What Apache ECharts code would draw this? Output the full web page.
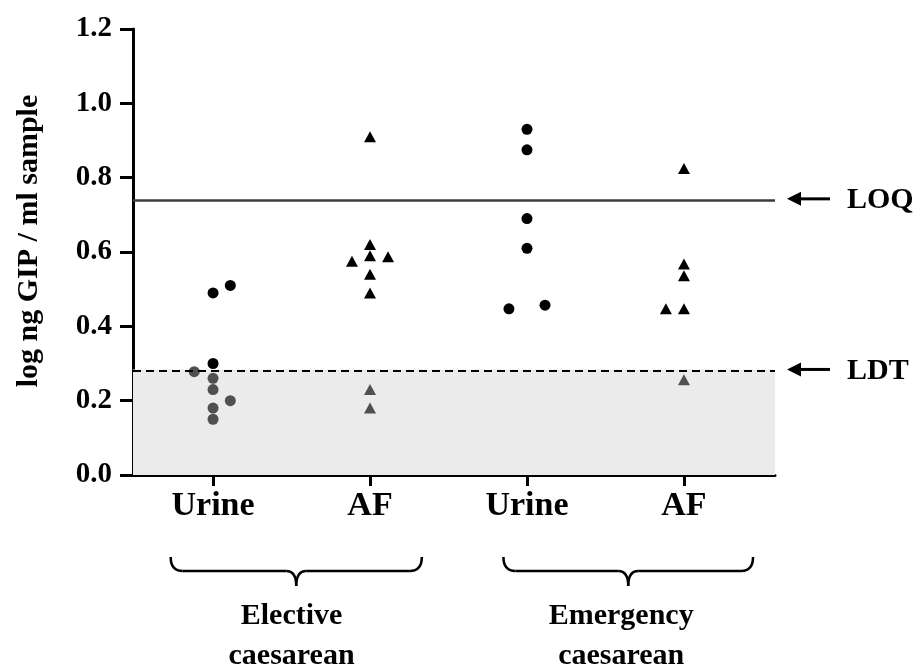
<!DOCTYPE html>
<html>
<head>
<meta charset="utf-8">
<script src="https://cdn.jsdelivr.net/npm/echarts@6/dist/echarts.min.js"></script>
<style>
  html, body { margin: 0; padding: 0; background: #fff; }
  #chart { width: 919px; height: 672px; }
</style>
</head>
<body>
<div id="chart"></div>
<script>
  // categories on the x axis, placed at 0,1,2,3
  var categories = ['Urine', 'AF', 'Urine', 'AF'];
  var groups = ['Elective\ncaesarean', 'Emergency\ncaesarean'];

  // log ng GIP / ml sample
  var electiveUrine = [0.51, 0.49, 0.30, 0.278, 0.26, 0.23, 0.20, 0.18, 0.15];
  var electiveUrineJitter = [0.11, 0, 0, -0.12, 0, 0, 0.11, 0, 0];
  var electiveAF = [0.91, 0.62, 0.59, 0.575, 0.587, 0.54, 0.49, 0.23, 0.18];
  var electiveAFJitter = [0, 0, 0, -0.115, 0.115, 0, 0, 0, 0];
  var emergencyUrine = [0.93, 0.875, 0.69, 0.61, 0.447, 0.457];
  var emergencyUrineJitter = [0, 0, 0, 0, -0.115, 0.115];
  var emergencyAF = [0.825, 0.568, 0.536, 0.447, 0.447, 0.256];
  var emergencyAFJitter = [0, 0, 0, -0.115, 0, 0];

  var LOQ = 0.743;
  var LDT = 0.284;

  var serif = '"Liberation Serif", "Times New Roman", serif';

  function points(pos, values, jitter) {
    return values.map(function (v, i) { return [pos + jitter[i], v] })
  }

  // points under the detection limit are drawn grey
  function dotColor(p) {
    return p.value[1] < LDT ? '#505050' : '#000'
  }

  var chart = echarts.init(document.getElementById('chart'));

  chart.setOption({
    animation: false,
    grid: { left: 133, right: 144, top: 29, bottom: 197 },
    xAxis: {
      type: 'value',
      min: -0.51,
      max: 3.58,
      splitLine: { show: false },
      axisLine: { onZero: false, lineStyle: { color: '#000', width: 3 } },
      axisTick: { customValues: [0, 1, 2, 3], length: 11, lineStyle: { color: '#000', width: 3 } },
      axisLabel: {
        customValues: [0, 1, 2, 3],
        margin: 14,
        color: '#000',
        fontFamily: serif,
        fontWeight: 'bold',
        fontSize: 34,
        formatter: function (v) { return categories[Math.round(v)] }
      }
    },
    yAxis: {
      type: 'value',
      min: 0,
      max: 1.2,
      interval: 0.2,
      name: 'log ng GIP / ml sample',
      nameLocation: 'middle',
      nameGap: 89,
      nameTextStyle: {
        color: '#000', fontFamily: serif, fontWeight: 'bold', fontSize: 30,
        padding: [0, 0, 0, 22]
      },
      splitLine: { show: false },
      axisLine: { onZero: false, lineStyle: { color: '#000', width: 3 } },
      axisTick: { length: 13, lineStyle: { color: '#000', width: 3 } },
      axisLabel: {
        margin: 21,
        color: '#000',
        fontFamily: serif,
        fontWeight: 'bold',
        fontSize: 29,
        formatter: function (v) { return v.toFixed(1) }
      }
    },
    series: [
      {
        type: 'scatter',
        symbol: 'circle',
        symbolSize: 11,
        data: points(0, electiveUrine, electiveUrineJitter),
        itemStyle: { color: dotColor, opacity: 1 },
        markArea: {
          silent: true,
          itemStyle: { color: '#ebebeb' },
          data: [[{ yAxis: 0 }, { yAxis: LDT }]]
        },
        markLine: {
          silent: true,
          symbol: 'none',
          animation: false,
          label: {
            position: 'end',
            distance: 72,
            color: '#000',
            fontFamily: serif,
            fontWeight: 'bold',
            fontSize: 30
          },
          data: [
            { yAxis: LOQ, label: { formatter: 'LOQ' }, lineStyle: { color: '#3c3c3c', width: 2.5, type: 'solid' } },
            { yAxis: LDT, label: { formatter: 'LDT' }, lineStyle: { color: '#000', width: 2, type: [8, 5] } }
          ]
        },
        z: 3
      },
      {
        type: 'scatter',
        symbol: 'triangle',
        symbolSize: [12, 11],
        data: points(1, electiveAF, electiveAFJitter),
        itemStyle: { color: dotColor, opacity: 1 },
        z: 3
      },
      {
        type: 'scatter',
        symbol: 'circle',
        symbolSize: 11,
        data: points(2, emergencyUrine, emergencyUrineJitter),
        itemStyle: { color: dotColor, opacity: 1 },
        z: 3
      },
      {
        type: 'scatter',
        symbol: 'triangle',
        symbolSize: [12, 11],
        data: points(3, emergencyAF, emergencyAFJitter),
        itemStyle: { color: dotColor, opacity: 1 },
        z: 3
      }
    ]
  });

  // arrows next to the limit lines, braces and group labels under the axis
  var gridRight = chart.convertToPixel({ xAxisIndex: 0 }, 3.58);
  var extra = [];
  [LOQ, LDT].forEach(function (lim) {
    var y = chart.convertToPixel({ yAxisIndex: 0 }, lim);
    var x0 = gridRight + 12;
    extra.push({
      type: 'polygon',
      shape: { points: [[x0, y], [x0 + 14, y - 7], [x0 + 14, y + 7]] },
      style: { fill: '#000' }
    });
    extra.push({
      type: 'line',
      shape: { x1: x0 + 12, y1: y, x2: x0 + 43, y2: y },
      style: { stroke: '#000', lineWidth: 3 }
    });
  });

  function brace(from, to) {
    var l = chart.convertToPixel({ xAxisIndex: 0 }, from);
    var r = chart.convertToPixel({ xAxisIndex: 0 }, to);
    var c = (l + r) / 2;
    var t = 557, m = 571, b = 586;
    var st = { stroke: '#000', lineWidth: 2.5, fill: null };
    var curve = function (x1, y1, cx, cy, x2, y2) {
      return { type: 'bezierCurve', shape: { x1: x1, y1: y1, cpx1: cx, cpy1: cy, x2: x2, y2: y2 }, style: st };
    };
    var seg = function (x1, x2) {
      return { type: 'line', shape: { x1: x1, y1: m, x2: x2, y2: m }, style: st };
    };
    return [
      curve(l, t, l, m, l + 12, m),
      seg(l + 12, c - 10),
      curve(c - 10, m, c, m, c, b),
      curve(c, b, c, m, c + 10, m),
      seg(c + 10, r - 12),
      curve(r - 12, m, r, m, r, t)
    ];
  }
  extra = extra.concat(brace(-0.27, 1.33), brace(1.85, 3.44));

  [[0.5, groups[0]], [2.6, groups[1]]].forEach(function (g) {
    extra.push({
      type: 'text',
      style: {
        text: g[1],
        x: chart.convertToPixel({ xAxisIndex: 0 }, g[0]),
        y: 596,
        align: 'center',
        verticalAlign: 'top',
        lineHeight: 40,
        fill: '#000',
        font: 'bold 30px ' + serif
      }
    });
  });

  chart.setOption({ graphic: { elements: extra } });
</script>
</body>
</html>
